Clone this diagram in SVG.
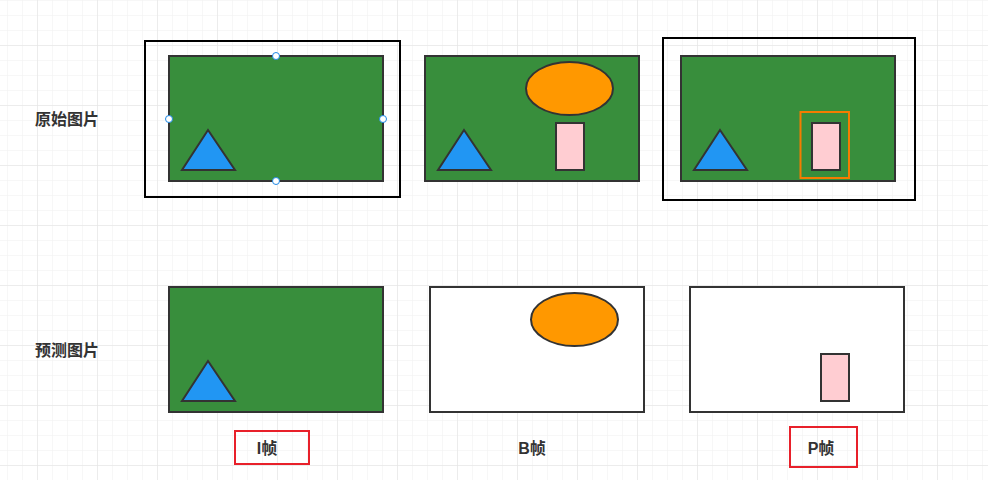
<svg xmlns="http://www.w3.org/2000/svg" width="988" height="480" viewBox="0 0 988 480">
<defs>
<pattern id="minor" x="7" y="0" width="15" height="15" patternUnits="userSpaceOnUse">
<path d="M0 0V15M0 0H15" fill="none" stroke="#f0f0f0" stroke-width="1"/>
</pattern>
<pattern id="major" x="37" y="45" width="60" height="60" patternUnits="userSpaceOnUse">
<path d="M0 0V60M0 0H60" fill="none" stroke="#e2e2e2" stroke-width="1"/>
</pattern>
</defs>
<style>
.frame{fill:none;stroke:#000;stroke-width:2}
.green{fill:#388e3c;stroke:#333;stroke-width:2}
.white{fill:#fff;stroke:#333;stroke-width:2}
.tri{fill:#2196f3;stroke:#333;stroke-width:2}
.ell{fill:#ff9800;stroke:#333;stroke-width:2}
.pink{fill:#ffcdd2;stroke:#333;stroke-width:2}
.sel{fill:none;stroke:#f57c00;stroke-width:2}
.red{fill:none;stroke:#e8202a;stroke-width:2}
.h{fill:#fff;stroke:#1e88e5;stroke-width:1}
text{font-family:"Liberation Sans","Noto Sans CJK SC",sans-serif;font-size:16px;font-weight:bold;fill:#333;text-anchor:middle;dominant-baseline:central}
</style>
<rect width="988" height="480" fill="#fff"/>
<rect width="988" height="480" fill="url(#minor)"/>
<rect width="988" height="480" fill="url(#major)"/>

<g id="label-original"><text x="67" y="119">原始图片</text></g>
<g id="label-predicted"><text x="67" y="350">预测图片</text></g>

<g id="orig-1">
<rect class="frame" x="145" y="41" width="255" height="156"/>
<rect class="green" x="169" y="56" width="214" height="125"/>
<polygon class="tri" points="208,130 235,170 182,170"/>
<circle class="h" cx="276" cy="56" r="3.5"/>
<circle class="h" cx="169" cy="119" r="3.5"/>
<circle class="h" cx="383" cy="119" r="3.5"/>
<circle class="h" cx="276" cy="181" r="3.5"/>
</g>
<g id="orig-2">
<rect class="green" x="425" y="56" width="214" height="125"/>
<ellipse class="ell" cx="569.5" cy="88.5" rx="43.5" ry="26.5"/>
<rect class="pink" x="556" y="123" width="28" height="47"/>
<polygon class="tri" points="464,130 491,170 438,170"/>
</g>
<g id="orig-3">
<rect class="frame" x="663" y="38" width="252" height="162"/>
<rect class="green" x="681" y="56" width="214" height="125"/>
<polygon class="tri" points="720,130 747,170 694,170"/>
<rect class="sel" x="800.5" y="112" width="48.5" height="66"/>
<rect class="pink" x="812" y="123" width="28" height="47"/>
</g>

<g id="pred-I">
<rect class="green" x="169" y="287" width="214" height="125"/>
<polygon class="tri" points="208,361 235,401 182,401"/>
</g>
<g id="pred-B">
<rect class="white" x="430" y="287" width="214" height="125"/>
<ellipse class="ell" cx="574.5" cy="319.5" rx="43.5" ry="26.5"/>
</g>
<g id="pred-P">
<rect class="white" x="690" y="287" width="214" height="125"/>
<rect class="pink" x="821" y="354" width="28" height="47"/>
</g>

<g id="cap-I"><rect class="red" x="235" y="431" width="74" height="33"/><text x="267" y="448">I帧</text></g>
<g id="cap-B"><text x="532" y="448">B帧</text></g>
<g id="cap-P"><rect class="red" x="790" y="427" width="67" height="40"/><text x="821" y="448">P帧</text></g>
<g id="connectors"></g>
</svg>
